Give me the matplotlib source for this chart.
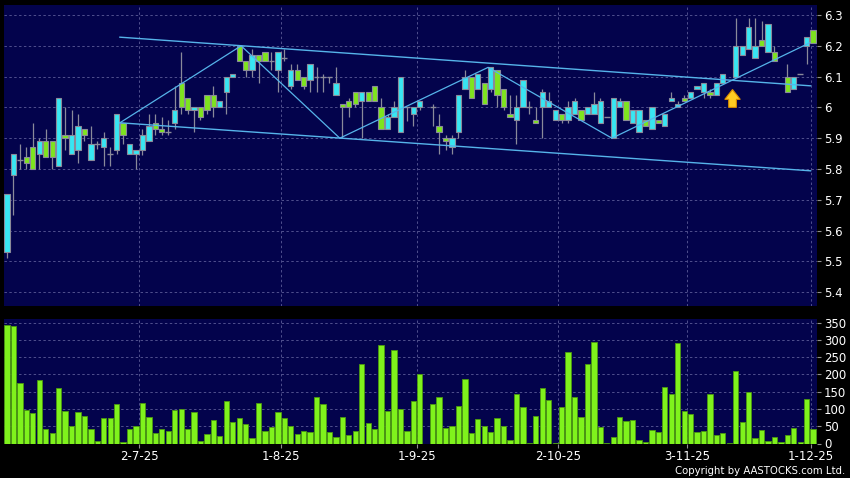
import numpy as np
import matplotlib.pyplot as plt
from matplotlib.patches import FancyArrow

# daily candles, one per trading day (nan = no trade)
opens = [5.53, 5.78, 5.83, 5.84, 5.87, 5.85, 5.89, 5.89, 5.81, 5.91,
         5.85, 5.86, 5.93, 5.83, 5.88, 5.87, 5.85, 5.86, 5.95, 5.85,
         5.85, 5.86, 5.89, 5.95, 5.93, 5.92, 5.95, 6.08, 6.03, 5.99,
         6.00, 6.04, 6.04, 6.00, 6.05, 6.10, 6.20, 6.15, 6.12, 6.17,
         6.18, 6.15, 6.12, 6.16, 6.07, 6.12, 6.10, 6.09, 6.10, 6.10,
         6.10, 6.04, 6.01, 6.02, 6.05, 6.02, 6.05, 6.07, 6.00, 5.93,
         5.97, 5.92, 6.00, 5.98, 6.00, np.nan, 6.00, 5.94, 5.90, 5.87,
         5.92, 6.06, 6.10, 6.06, 6.08, 6.06, 6.12, 6.06, 5.98, 5.96,
         6.00, 6.00, 5.96, 6.00, 6.00, 5.96, 5.98, 5.96, 5.98, 5.99,
         5.98, 5.98, 5.95, 5.97, 5.90, 6.00, 6.02, 5.95, 5.92, 5.96,
         5.93, 5.96, 5.94, 6.02, 6.00, 6.03, 6.03, 6.06, 6.05, 6.05,
         6.04, 6.08, np.nan, 6.10, 6.17, 6.19, 6.16, 6.22, 6.18, 6.18,
         np.nan, 6.10, 6.06, 6.11, 6.20, 6.25]
highs = [5.72, 5.85, 5.88, 5.87, 5.95, 5.90, 5.93, 5.89, 6.03, 6.00,
         5.99, 5.98, 5.93, 5.94, 5.89, 5.92, 5.87, 5.98, 5.95, 5.88,
         5.86, 5.93, 5.98, 5.98, 5.97, 5.96, 6.07, 6.18, 6.03, 6.00,
         6.00, 6.04, 6.07, 6.02, 6.10, 6.11, 6.20, 6.15, 6.19, 6.17,
         6.18, 6.18, 6.18, 6.19, 6.14, 6.14, 6.10, 6.14, 6.13, 6.11,
         6.10, 6.13, 6.01, 6.03, 6.05, 6.05, 6.05, 6.07, 6.03, 5.98,
         6.02, 6.10, 6.00, 6.00, 6.02, np.nan, 6.01, 5.98, 5.91, 5.91,
         6.04, 6.12, 6.10, 6.11, 6.08, 6.13, 6.12, 6.06, 6.04, 6.04,
         6.09, 6.02, 6.00, 6.06, 6.05, 5.99, 5.98, 6.02, 6.03, 5.99,
         6.00, 6.05, 6.03, 5.97, 6.03, 6.03, 6.02, 5.99, 5.99, 5.96,
         6.00, 5.96, 5.98, 6.05, 6.02, 6.04, 6.05, 6.07, 6.08, 6.06,
         6.08, 6.11, np.nan, 6.29, 6.20, 6.29, 6.29, 6.28, 6.27, 6.20,
         np.nan, 6.14, 6.10, 6.11, 6.23, 6.25]
lows = [5.51, 5.65, 5.80, 5.80, 5.80, 5.80, 5.84, 5.80, 5.81, 5.86,
        5.85, 5.82, 5.89, 5.83, 5.865, 5.81, 5.81, 5.85, 5.88, 5.85,
        5.80, 5.845, 5.89, 5.91, 5.91, 5.91, 5.93, 5.98, 5.98, 5.92,
        5.96, 5.98, 5.97, 6.00, 5.98, 6.10, 6.15, 6.10, 6.10, 6.08,
        6.15, 6.12, 6.05, 6.15, 6.06, 6.09, 6.06, 6.05, 6.05, 6.05,
        6.08, 6.04, 5.90, 5.97, 6.00, 5.90, 6.02, 6.02, 5.93, 5.93,
        5.97, 5.92, 5.955, 5.94, 5.99, np.nan, 5.94, 5.85, 5.86, 5.85,
        5.90, 6.06, 6.03, 6.06, 6.01, 6.05, 6.00, 5.99, 5.97, 5.88,
        6.00, 5.98, 5.95, 5.90, 6.00, 5.96, 5.95, 5.95, 5.98, 5.96,
        5.98, 5.98, 5.95, 5.97, 5.90, 6.00, 5.96, 5.95, 5.92, 5.94,
        5.93, 5.95, 5.94, 6.02, 6.00, 6.02, 6.03, 6.06, 6.03, 6.03,
        6.04, 6.08, np.nan, 6.10, 6.17, 6.19, 6.16, 6.20, 6.18, 6.15,
        np.nan, 6.05, 6.06, 6.11, 6.14, 6.21]
closes = [5.72, 5.85, 5.83, 5.82, 5.80, 5.89, 5.84, 5.84, 6.03, 5.90,
          5.91, 5.94, 5.91, 5.88, 5.88, 5.90, 5.85, 5.98, 5.91, 5.88,
          5.86, 5.91, 5.94, 5.93, 5.92, 5.92, 5.99, 6.00, 5.99, 6.00,
          5.97, 5.99, 6.00, 6.02, 6.10, 6.11, 6.15, 6.12, 6.17, 6.15,
          6.15, 6.15, 6.18, 6.16, 6.12, 6.09, 6.07, 6.14, 6.10, 6.10,
          6.10, 6.08, 6.00, 6.00, 6.01, 6.05, 6.02, 6.02, 5.93, 5.97,
          6.00, 6.10, 6.00, 6.00, 6.02, np.nan, 6.00, 5.92, 5.89, 5.90,
          6.04, 6.10, 6.03, 6.11, 6.01, 6.13, 6.04, 6.00, 5.97, 6.00,
          6.09, 6.00, 5.95, 6.05, 6.02, 5.99, 5.96, 6.00, 6.02, 5.96,
          6.00, 6.01, 6.02, 5.97, 6.03, 6.02, 5.96, 5.99, 5.99, 5.94,
          6.00, 5.95, 5.98, 6.03, 6.01, 6.02, 6.05, 6.07, 6.08, 6.04,
          6.08, 6.11, np.nan, 6.20, 6.20, 6.26, 6.20, 6.20, 6.27, 6.15,
          np.nan, 6.05, 6.10, 6.11, 6.23, 6.21]
volumes = [343, 340, 176, 97, 87, 184, 42, 29, 162, 95,
           50, 92, 79, 42, 7, 73, 74, 113, 3, 41,
           52, 118, 77, 31, 42, 35, 98, 100, 42, 92,
           8, 27, 67, 22, 123, 61, 73, 57, 15, 117,
           35, 48, 91, 73, 51, 27, 36, 33, 134, 113,
           33, 18, 76, 24, 36, 230, 59, 41, 284, 95,
           271, 100, 35, 123, 201, 0, 115, 135, 45, 50,
           108, 186, 30, 70, 50, 33, 73, 50, 10, 143,
           106, 2, 80, 160, 125, 2, 105, 265, 136, 76,
           230, 293, 48, 2, 18, 78, 64, 67, 10, 3,
           38, 33, 164, 143, 292, 95, 84, 33, 36, 143,
           24, 30, 2, 209, 61, 150, 16, 40, 8, 20,
           3, 26, 44, 5, 128, 42]

date_labels = ['2-7-25', '1-8-25', '1-9-25', '2-10-25', '3-11-25', '1-12-25']
date_pos = [20.5, 42.5, 63.5, 85.5, 105.5, 124.6]

# trend channel and zigzag (bar index, price)
upper_x, upper_y = [17.5, 124.6], [6.228, 6.07]
lower_x, lower_y = [17.5, 124.6], [5.95, 5.794]
zig_x = [17.5, 36.3, 51.6, 74.6, 93.8, 124.5]
zig_y = [5.95, 6.20, 5.90, 6.13, 5.90, 6.21]
arrow_idx, arrow_price = 112.5, 6.0

price_ticks = [5.4, 5.5, 5.6, 5.7, 5.8, 5.9, 6.0, 6.1, 6.2, 6.3]
vol_ticks = [0, 50, 100, 150, 200, 250, 300, 350]

navy = '#03034c'
cyan = '#38e6f2'
green = '#7ee41e'
edge = '#8a8a9a'
gridc = '#50508e'
linec = '#56b4ea'

x = np.arange(len(opens))
o, h, l, c = map(np.array, (opens, highs, lows, closes))

fig = plt.figure(figsize=(8.5, 4.78), dpi=100, facecolor='black')
ax = fig.add_axes([4/850, 1 - 306/478, 813/850, 301/478], facecolor=navy)
axv = fig.add_axes([4/850, 1 - 443.5/478, 813/850, 125/478], facecolor=navy)

for a in (ax, axv):
    for s in a.spines.values():
        s.set_visible(False)
    a.set_xlim(-0.47, 125.6)
    a.grid(True, color=gridc, linestyle=(0, (2.5, 2.5)), linewidth=0.7)
    a.set_axisbelow(True)
    a.yaxis.tick_right()
    a.tick_params(axis='y', colors='#909090', labelcolor='white', labelsize=8.5, length=3, pad=2)
    a.tick_params(axis='x', colors='#909090', labelcolor='white', labelsize=8.5, length=3, pad=2)
    a.set_xticks(date_pos)

# candles
ok = ~np.isnan(o)
ax.vlines(x[ok], l[ok], h[ok], color=edge, linewidth=0.9, zorder=2)
up = ok & (c > o)
dn = ok & (c < o)
flat = ok & (c == o)
ax.bar(x[up], (c - o)[up], bottom=o[up], width=0.82, color=cyan, edgecolor=edge, linewidth=0.8, zorder=3)
ax.bar(x[dn], (o - c)[dn], bottom=c[dn], width=0.82, color=green, edgecolor=edge, linewidth=0.8, zorder=3)
ax.hlines(c[flat], x[flat] - 0.45, x[flat] + 0.45, color=edge, linewidth=1.0, zorder=3)

ax.plot(upper_x, upper_y, color=linec, linewidth=1.0, zorder=4)
ax.plot(lower_x, lower_y, color=linec, linewidth=1.0, zorder=4)
ax.plot(zig_x, zig_y, color=linec, linewidth=0.9, zorder=4)
ax.add_patch(FancyArrow(arrow_idx, arrow_price, 0, 0.058, width=1.2, head_width=2.4,
                        head_length=0.032, length_includes_head=True,
                        facecolor='#ffcc22', edgecolor='#d88a00', linewidth=0.8, zorder=5))

ax.set_ylim(5.355, 6.3325)
ax.set_yticks(price_ticks)
ax.set_yticklabels(['%g' % t for t in price_ticks])
ax.set_xticklabels([])
ax.tick_params(axis='x', length=0)

axv.bar(x, volumes, width=0.82, color='#7ff21c', edgecolor='#4c9a10', linewidth=0.6, zorder=3)
axv.set_ylim(0, 362)
axv.set_yticks(vol_ticks)
axv.set_xticklabels(date_labels)

fig.text(845/850, 1 - 471/478, 'Copyright by AASTOCKS.com Ltd.', color='white',
         fontsize=7.3, ha='right', va='center')

fig.savefig('out.png', dpi=100, facecolor='black')
